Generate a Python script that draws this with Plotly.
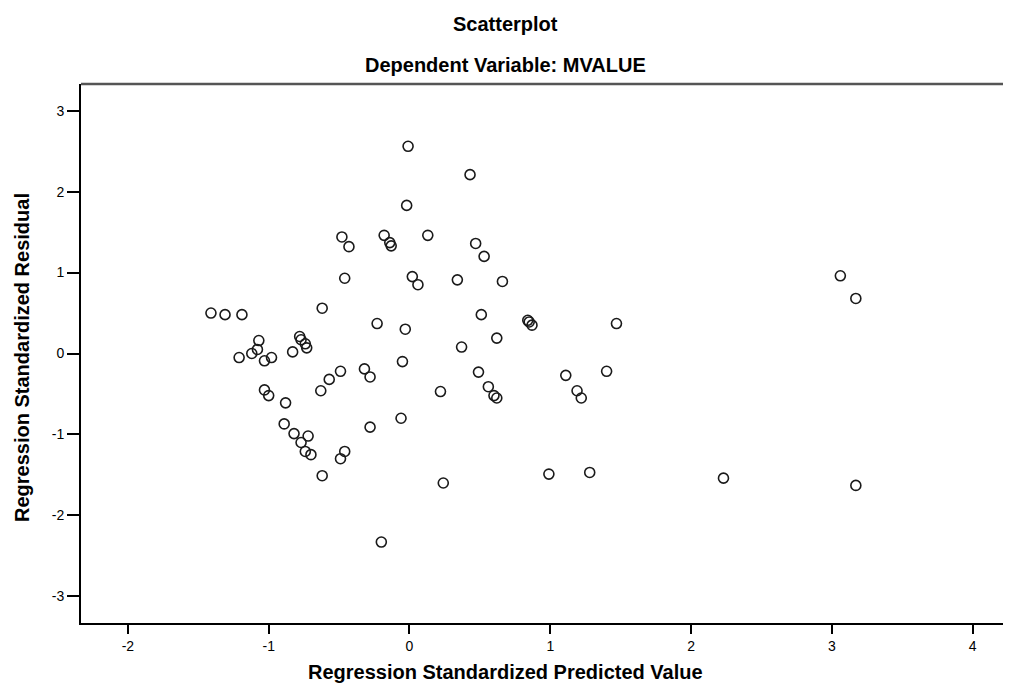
import plotly.graph_objects as go

pred = [-0.01, 0.43, -0.02, -0.48, -0.18, -0.43, -0.14, -0.13, 0.13, 0.47,
        0.53, 0.02, 0.06, 0.34, 0.66, -0.46, 0.51, 0.84, 0.85, 0.87,
        1.47, -0.03, 0.62, 0.37, -0.05, 0.49, 1.11, 1.40, 0.22, 0.56,
        0.60, 0.62, 1.19, 1.22, -0.06, 0.24, 0.99, 1.28, 3.06, 3.17,
        2.23, 3.17, -1.41, -1.31, -1.19, -0.62, -0.23, -1.07, -1.08, -1.12,
        -1.21, -1.03, -0.98, -0.78, -0.77, -0.74, -0.73, -0.83, -0.49, -0.57,
        -0.63, -0.32, -0.28, -1.03, -1.00, -0.88, -0.89, -0.82, -0.72, -0.77,
        -0.74, -0.70, -0.28, -0.46, -0.49, -0.62, -0.20]
resid = [2.56, 2.21, 1.83, 1.44, 1.46, 1.32, 1.37, 1.33, 1.46, 1.36,
         1.20, 0.95, 0.85, 0.91, 0.89, 0.93, 0.48, 0.41, 0.39, 0.35,
         0.37, 0.30, 0.19, 0.08, -0.10, -0.23, -0.27, -0.22, -0.47, -0.41,
         -0.52, -0.55, -0.46, -0.55, -0.80, -1.60, -1.49, -1.47, 0.96, 0.68,
         -1.54, -1.63, 0.50, 0.48, 0.48, 0.56, 0.37, 0.16, 0.05, 0.00,
         -0.05, -0.09, -0.05, 0.21, 0.17, 0.12, 0.07, 0.02, -0.22, -0.32,
         -0.46, -0.19, -0.29, -0.45, -0.52, -0.61, -0.87, -0.99, -1.02, -1.10,
         -1.21, -1.25, -0.91, -1.21, -1.30, -1.51, -2.33]

x_ticks = [-2, -1, 0, 1, 2, 3, 4]
x_tick_labels = ["-2", "-1", "0", "1", "2", "3", "4"]
y_ticks = [-3, -2, -1, 0, 1, 2, 3]
y_tick_labels = ["-3", "-2", "-1", "0", "1", "2", "3"]

title_main = "Scatterplot"
title_sub = "Dependent Variable: MVALUE"
x_title = "Regression Standardized Predicted Value"
y_title = "Regression Standardized Residual"

FONT = "Liberation Sans, Arial, sans-serif"

# page body has an 8px default margin; figure is sized/offset to compensate
OFF = 8
W, H = 1011 - OFF, 688 - OFF
L, T, B = 81 - OFF, 84 - OFF, 688 - 623
PW, PH = W - L, H - T - B


def px(xr):
    return (xr - OFF - L) / PW


def py(yr):
    return (H - B - (yr - OFF)) / PH


fig = go.Figure()
fig.add_trace(go.Scatter(
    x=pred, y=resid, mode="markers",
    marker=dict(symbol="circle-open", size=10, color="#1a1a1a",
                line=dict(width=1.6, color="#1a1a1a")),
    showlegend=False, hoverinfo="x+y",
))

fig.update_layout(
    width=W, height=H,
    margin=dict(l=L, r=0, t=T, b=B, pad=0),
    paper_bgcolor="white", plot_bgcolor="white",
    font=dict(family=FONT, color="black"),
    xaxis=dict(range=[-2.333, 4.272], tickvals=x_ticks, ticktext=x_tick_labels,
               ticks="outside", ticklen=9, tickwidth=2, tickcolor="black",
               showline=True, linecolor="black", linewidth=2, showgrid=False,
               zeroline=False, tickfont=dict(size=14, family=FONT), mirror=False),
    yaxis=dict(range=[-3.33, 3.33], tickvals=y_ticks, ticktext=y_tick_labels,
               ticks="outside", ticklen=12, tickwidth=2, tickcolor="black",
               showline=True, linecolor="black", linewidth=2, showgrid=False,
               zeroline=False, tickfont=dict(size=14, family=FONT),
               ticklabelstandoff=0),
    shapes=[dict(type="line", xref="paper", yref="paper", x0=0, x1=1, y0=1, y1=1,
                 line=dict(color="#555555", width=2.5))],
    annotations=[
        dict(text=f"<b>{title_main}</b>", xref="paper", yref="paper",
             x=px(505), y=py(24), xanchor="center", yanchor="middle",
             showarrow=False, font=dict(size=20, family=FONT)),
        dict(text=f"<b>{title_sub}</b>", xref="paper", yref="paper",
             x=px(505), y=py(65), xanchor="center", yanchor="middle",
             showarrow=False, font=dict(size=20, family=FONT)),
        dict(text=f"<b>{x_title}</b>", xref="paper", yref="paper",
             x=px(505), y=py(672), xanchor="center", yanchor="middle",
             showarrow=False, font=dict(size=20, family=FONT)),
        dict(text=f"<b>{y_title}</b>", xref="paper", yref="paper",
             x=px(22), y=py(358), xanchor="center", yanchor="middle",
             textangle=-90, showarrow=False, font=dict(size=20, family=FONT)),
    ],
)

fig.write_html("out.html")
